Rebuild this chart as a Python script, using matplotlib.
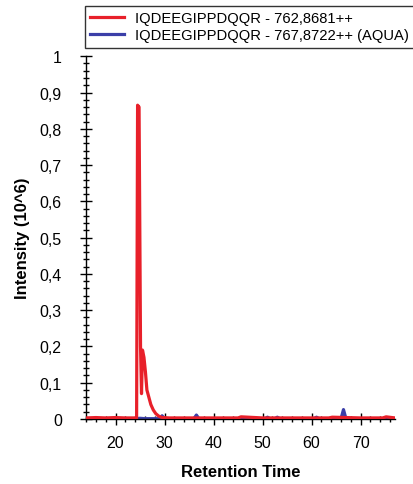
import matplotlib
matplotlib.use('Agg')
import matplotlib.pyplot as plt
from matplotlib.ticker import MultipleLocator, FuncFormatter

plt.rcParams['font.family'] = ['Liberation Sans', 'DejaVu Sans']

# light chain peptide, native
red_label = 'IQDEEGIPPDQQR - 762,8681++'
red_time = [14.0, 16.0, 18.0, 20.0, 22.0, 24.0, 24.3, 24.5, 24.8, 25.1, 25.3, 25.5,
            25.8, 26.1, 26.4, 26.8, 27.2, 27.7, 28.2, 28.8, 29.5, 31.0, 35.0,
            40.0, 45.0, 45.6, 50.0, 55.0, 60.0, 63.5, 64.2, 70.0, 74.5, 75.2, 77.0]
red_int = [0.003, 0.004, 0.003, 0.004, 0.003, 0.003, 0.003, 0.865, 0.86, 0.2, 0.07,
           0.19, 0.17, 0.13, 0.08, 0.06, 0.04, 0.025, 0.015, 0.008, 0.004, 0.003,
           0.003, 0.003, 0.003, 0.006, 0.003, 0.003, 0.003, 0.003, 0.005, 0.003,
           0.003, 0.006, 0.003]

# AQUA standard
blue_label = 'IQDEEGIPPDQQR - 767,8722++ (AQUA)'
blue_time = [14.0, 24.0, 25.0, 26.0, 29.0, 29.5, 30.0, 36.0, 36.5, 37.0, 50.5,
             51.0, 51.5, 52.5, 53.0, 53.5, 60.5, 61.0, 61.5, 66.0, 66.5, 67.0, 77.0]
blue_int = [0.001, 0.001, 0.002, 0.001, 0.001, 0.009, 0.001, 0.001, 0.011, 0.001,
            0.001, 0.005, 0.001, 0.001, 0.005, 0.001, 0.001, 0.005, 0.001, 0.001,
            0.026, 0.001, 0.001]

fig = plt.figure(figsize=(4.14, 4.85), dpi=100)
ax = fig.add_axes([0.208, 0.134, 0.746, 0.748])

ax.plot(blue_time, blue_int, color='#3b3fa8', lw=2.3, label=blue_label, zorder=2)
ax.plot(red_time, red_int, color='#e8202a', lw=2.3, label=red_label, zorder=3)

ax.set_xlim(14, 77)
ax.set_ylim(0, 1)

for s in ['top', 'right']:
    ax.spines[s].set_visible(False)
ax.spines['left'].set_linewidth(1.0)
ax.spines['bottom'].set_linewidth(1.0)

ax.xaxis.set_major_locator(MultipleLocator(10))
ax.xaxis.set_minor_locator(MultipleLocator(2))
ax.yaxis.set_major_locator(MultipleLocator(0.1))
ax.yaxis.set_minor_locator(MultipleLocator(0.02))

def comma_fmt(v, pos):
    if abs(v - round(v)) < 1e-9:
        return str(int(round(v)))
    return ('%.1f' % v).replace('.', ',')

ax.yaxis.set_major_formatter(FuncFormatter(comma_fmt))

ax.tick_params(which='major', direction='inout', length=9, width=1.0,
               labelsize=11.5, colors='black')
ax.tick_params(which='minor', direction='inout', length=5, width=1.0)
ax.tick_params(axis='x', which='major', pad=7)
ax.tick_params(axis='y', which='major', pad=13)

ax.set_xlabel('Retention Time', fontsize=12, fontweight='bold', labelpad=10)
ax.set_ylabel('Intensity (10^6)', fontsize=12, fontweight='bold', labelpad=7)

h, l = ax.get_legend_handles_labels()
leg = fig.legend(h[::-1], l[::-1], loc='upper left', bbox_to_anchor=(0.205, 0.985),
                 fontsize=10.6, frameon=True, fancybox=False, handlelength=2.3,
                 handletextpad=0.75, borderpad=0.35, labelspacing=0.2,
                 borderaxespad=0)
leg.get_frame().set_edgecolor('black')
leg.get_frame().set_linewidth(1.0)

fig.savefig('out.png', dpi=100)
